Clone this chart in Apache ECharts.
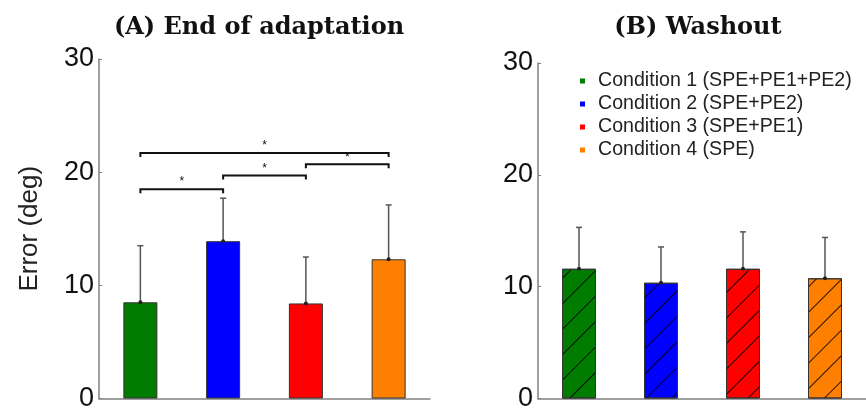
<!DOCTYPE html>
<html>
<head>
<meta charset="utf-8">
<script src="https://cdn.jsdelivr.net/npm/echarts@6/dist/echarts.min.js"></script>
<style>
html, body { margin: 0; padding: 0; background: #fff; }
#chart { width: 866px; height: 412px; }
</style>
</head>
<body>
<div id="chart"></div>
<script>
var conditions = ['Condition 1 (SPE+PE1+PE2)', 'Condition 2 (SPE+PE2)', 'Condition 3 (SPE+PE1)', 'Condition 4 (SPE)']
var colors = ['#007c00', '#0000ff', '#ff0000', '#ff8000']
var yTicks = [0, 10, 20, 30]

// (A) end of adaptation
var adaptMean = [8.5, 13.9, 8.4, 12.3]
var adaptErr = [5.0, 3.8, 4.1, 4.8]
// (B) washout
var washMean = [11.6, 10.35, 11.6, 10.75]
var washErr = [3.7, 3.2, 3.3, 3.65]
// significance brackets: [from, to, height]
var brackets = [[0, 3, 21.7], [2, 3, 20.7], [1, 2, 19.7], [0, 1, 18.5]]

var hatch = {
    symbol: 'rect',
    symbolSize: 1,
    dashArrayX: [[1, 0]],
    dashArrayY: [1, 17],
    rotation: -Math.PI / 4,
    color: 'rgba(0,0,0,0.85)'
}

function oneBar(vals, i){
    var out = []
    for (var k = 0; k < vals.length; k++){
        out.push(k === i ? vals[k] : '-')
    }
    return out
}

function errItem(params, api){
    var base = api.coord([api.value(0), api.value(1)])
    var top = api.coord([api.value(0), api.value(1) + api.value(2)])
    var st = {stroke: '#555', lineWidth: 1.5}
    return {
        type: 'group',
        children: [
            {type: 'line', shape: {x1: base[0], y1: base[1], x2: top[0], y2: top[1]}, style: st},
            {type: 'line', shape: {x1: top[0] - 3, y1: top[1], x2: top[0] + 3, y2: top[1]}, style: st},
            {type: 'circle', shape: {cx: base[0], cy: base[1], r: 2}, style: {fill: '#222'}}
        ]
    }
}

function bracketItem(params, api){
    var a = api.coord([api.value(0), api.value(2)])
    var b = api.coord([api.value(1), api.value(2)])
    return {
        type: 'group',
        children: [
            {type: 'polyline', shape: {points: [[a[0], a[1] + 4], [a[0], a[1]], [b[0], b[1]], [b[0], b[1] + 4]]},
             style: {stroke: '#111', lineWidth: 2, fill: null}},
            {type: 'text', style: {text: '*', x: (a[0] + b[0]) / 2, y: a[1] - 1, align: 'center', verticalAlign: 'bottom',
             font: '12px "Liberation Sans"', fill: '#111'}}
        ]
    }
}

function makeY(gi){
    return {
        gridIndex: gi, type: 'value', min: yTicks[0], max: yTicks[yTicks.length - 1], interval: 10,
        axisLine: {show: true, lineStyle: {color: '#808080', width: 1.5}},
        axisTick: {show: true, inside: true, length: 3, lineStyle: {color: '#808080'}},
        splitLine: {show: false},
        axisLabel: {fontSize: 27, color: '#111', fontFamily: 'Liberation Sans', margin: 5}
    }
}

function makeX(gi){
    return {
        gridIndex: gi, type: 'category', data: conditions,
        axisLine: {lineStyle: {color: '#808080', width: 1.5}},
        axisTick: {show: false}, axisLabel: {show: false}
    }
}

var series = []
for (var i = 0; i < 4; i++){
    series.push({
        name: conditions[i], type: 'bar', xAxisIndex: 0, yAxisIndex: 0,
        data: oneBar(adaptMean, i), barWidth: 34, barGap: '-100%',
        itemStyle: {color: colors[i], borderColor: '#333', borderWidth: 1}
    })
}
for (var i = 0; i < 4; i++){
    series.push({
        name: conditions[i], type: 'bar', xAxisIndex: 1, yAxisIndex: 1,
        data: oneBar(washMean, i), barWidth: 34, barGap: '-100%',
        itemStyle: {color: colors[i], borderColor: '#333', borderWidth: 1, decal: hatch}
    })
}
series.push({
    type: 'custom', xAxisIndex: 0, yAxisIndex: 0, renderItem: errItem, clip: false, z: 5,
    data: adaptMean.map(function(v, k){ return [k, v, adaptErr[k]] })
})
series.push({
    type: 'custom', xAxisIndex: 1, yAxisIndex: 1, renderItem: errItem, clip: false, z: 5,
    data: washMean.map(function(v, k){ return [k, v, washErr[k]] })
})
series.push({
    type: 'custom', xAxisIndex: 0, yAxisIndex: 0, renderItem: bracketItem, clip: false, z: 5,
    data: brackets
})

var yA = makeY(0)
yA.name = 'Error (deg)'
yA.nameLocation = 'middle'
yA.nameGap = 56
yA.nameTextStyle = {fontSize: 26, color: '#222', fontFamily: 'Liberation Sans'}

var legendData = conditions.map(function(c, k){
    return {name: c, itemStyle: {color: colors[k], borderWidth: 0, decal: 'none'}}
})

var option = {
    animation: false,
    backgroundColor: '#fff',
    title: [
        {text: '(A) End of adaptation', left: 259, top: 16, textAlign: 'center', padding: 0,
         textStyle: {fontFamily: 'DejaVu Serif', fontWeight: 'bold', fontSize: 24, color: '#111'}},
        {text: '(B) Washout', left: 698, top: 16, textAlign: 'center', padding: 0,
         textStyle: {fontFamily: 'DejaVu Serif', fontWeight: 'bold', fontSize: 24, color: '#111'}}
    ],
    legend: {
        orient: 'vertical', left: 580, top: 71, padding: 0,
        icon: 'rect', itemWidth: 5, itemHeight: 5, itemGap: 3,
        data: legendData,
        textStyle: {fontSize: 19.6, lineHeight: 20, color: '#222', fontFamily: 'Liberation Sans', padding: [0, 0, 0, 8]}
    },
    grid: [
        {left: 99, top: 59, width: 331, height: 341},
        {left: 538, top: 63, width: 334, height: 340}
    ],
    xAxis: [makeX(0), makeX(1)],
    yAxis: [yA, makeY(1)],
    series: series
}

var chart = echarts.init(document.getElementById('chart'))
chart.setOption(option)
</script>
</body>
</html>
